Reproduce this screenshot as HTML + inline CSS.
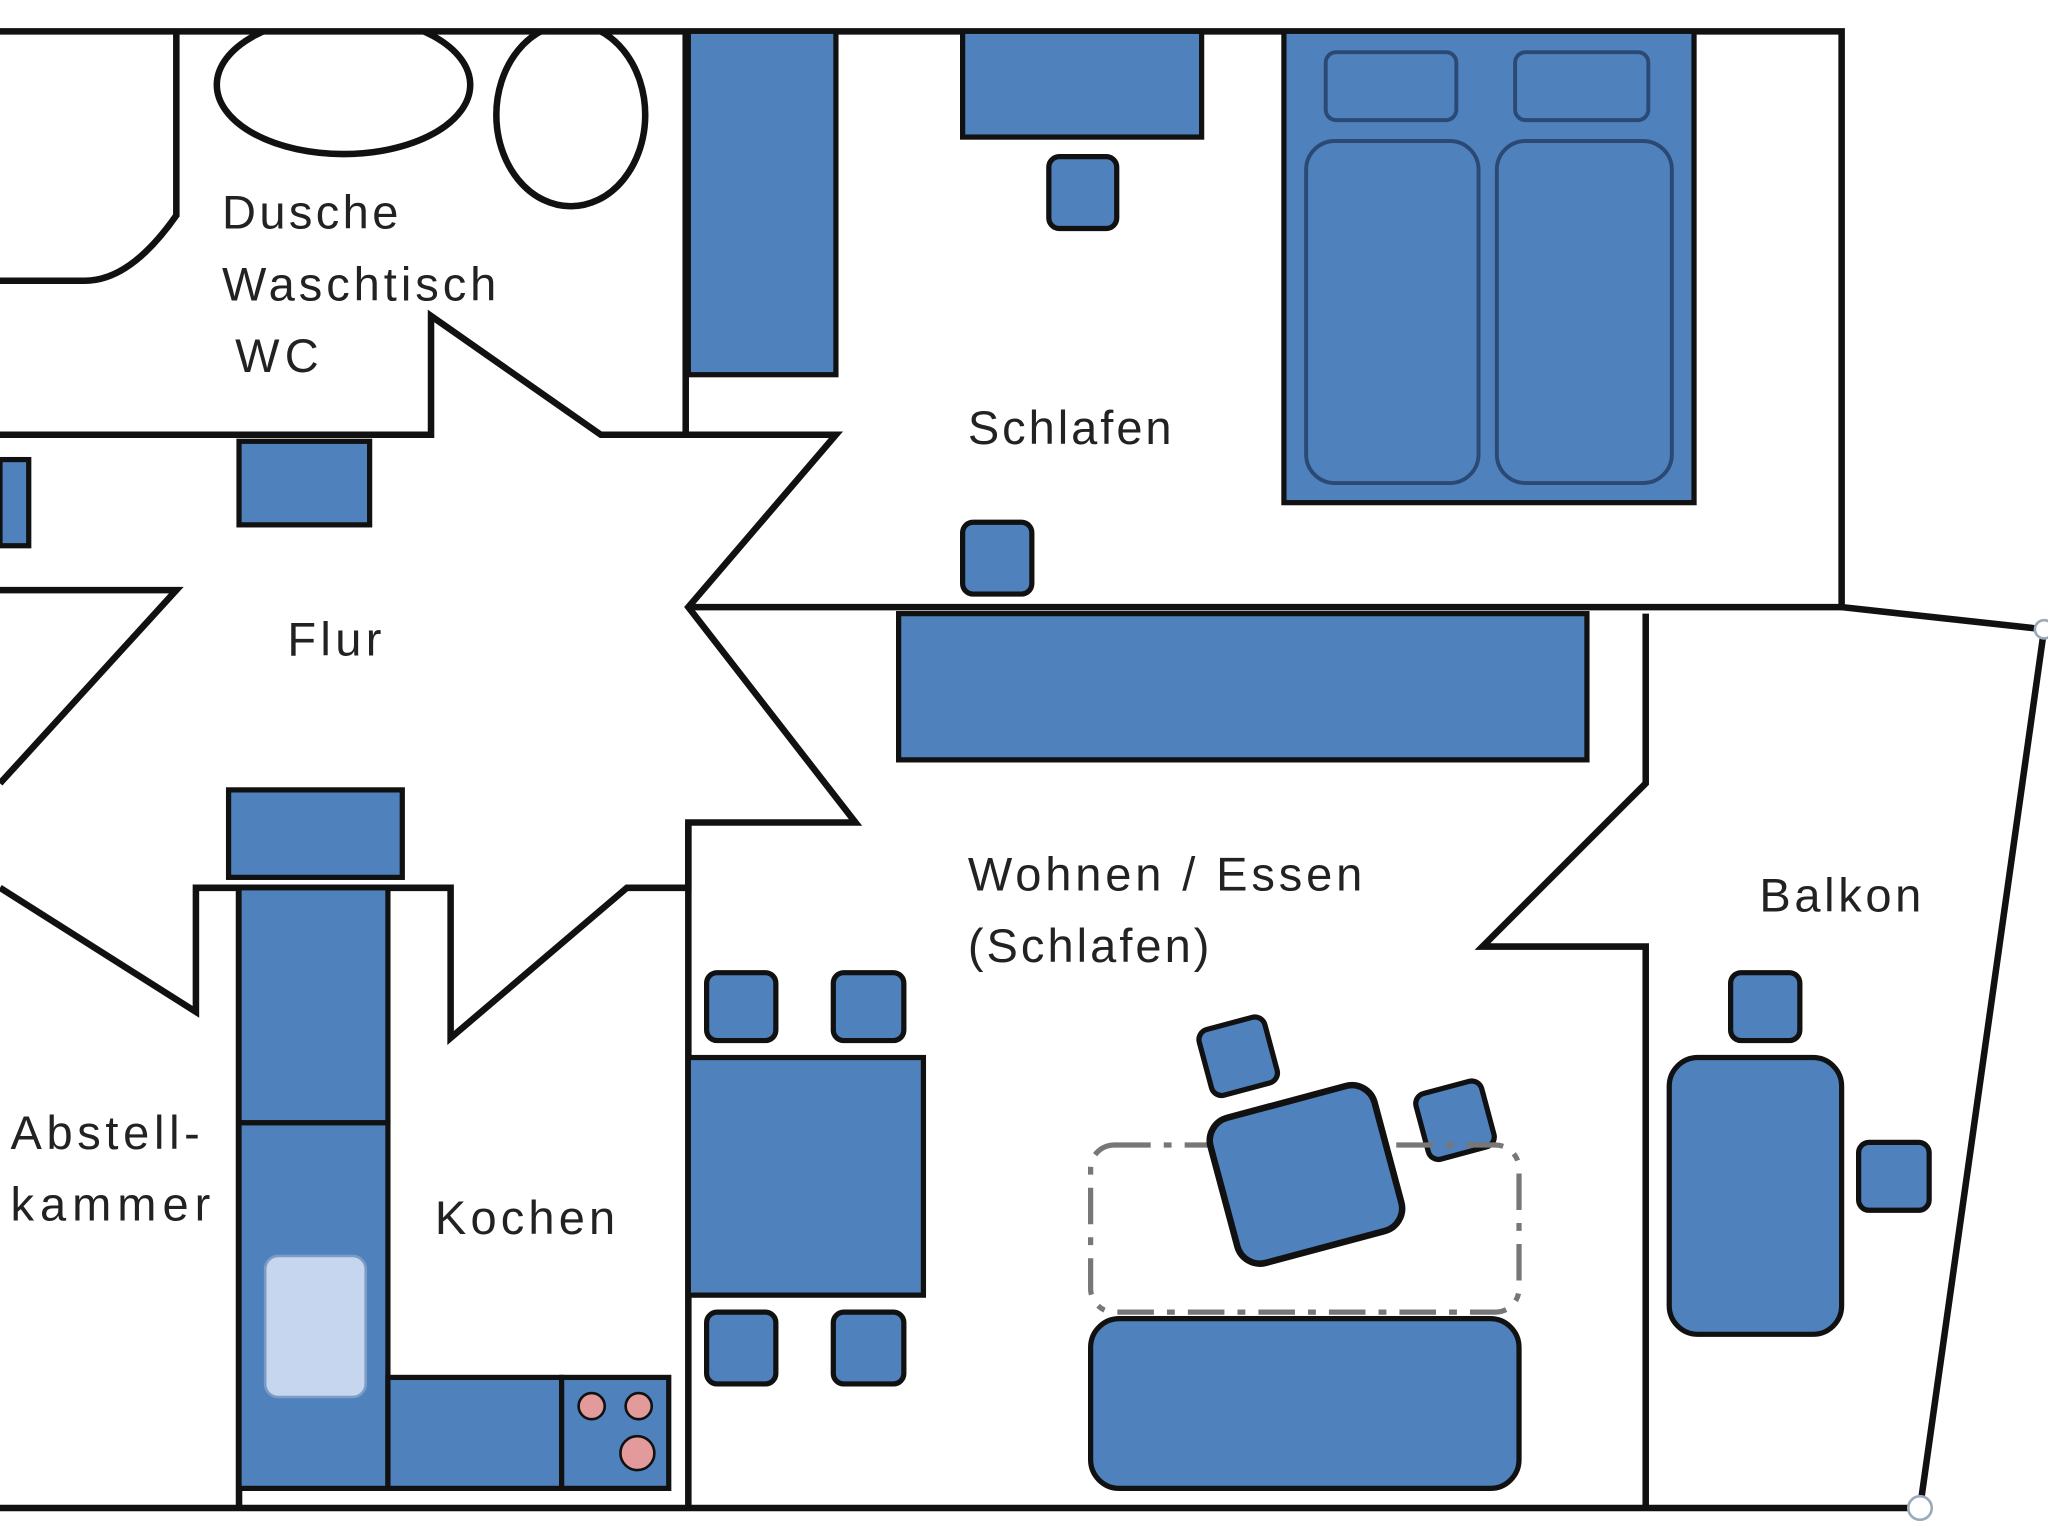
<!DOCTYPE html>
<html><head><meta charset="utf-8"><style>
html,body{margin:0;padding:0;background:#fff;}
svg{display:block}
text{font-family:"Liberation Sans",sans-serif;font-size:36px;fill:#222;}
</style></head><body>
<svg width="2048" height="1538" viewBox="0 0 1568 1178" preserveAspectRatio="none" xmlns="http://www.w3.org/2000/svg">
<defs><clipPath id="c"><rect x="0" y="24" width="1568" height="1200"/></clipPath></defs>
<rect width="1568" height="1178" fill="#fff"/>
<g fill="none" stroke="#111" stroke-width="5" stroke-linejoin="miter">
<path d="M0 24 H1410 V465 L1565 482 L1470 1155 H0"/>
<path d="M0 215 H65 Q100 215 135 165 V24"/>
<g clip-path="url(#c)">
<ellipse cx="263" cy="65" rx="97" ry="53"/>
<ellipse cx="437" cy="88" rx="57" ry="70"/>
</g>
<path d="M525 24 V333"/>
<path d="M0 333 H330 V242 L460 333 H640 L527 465 L655 630 H527 V680 H480 L345 795 V680 H150 V775 L0 680"/>
<path d="M0 600 L135 452 H0"/>
<path d="M527 465 H1410"/>
<path d="M527 630 V1155"/>
<path d="M183 680 V1155"/>
<path d="M1260 470 V600 L1135 725 H1260 V1155"/>
</g>
<g fill="#4f81bd" stroke="#111" stroke-width="4">
<rect x="527" y="24" width="113" height="263"/>
<rect x="737" y="24" width="183" height="81"/>
<rect x="803" y="120" width="52" height="55" rx="8"/>
<rect x="983" y="24" width="314" height="361"/>
<rect x="737" y="400" width="53" height="55" rx="8"/>
<rect x="0" y="352" width="22" height="66"/>
<rect x="183" y="338" width="100" height="64"/>
<rect x="688" y="470" width="527" height="112"/>
<rect x="175" y="605" width="133" height="67"/>
<rect x="183" y="680" width="114" height="180"/>
<rect x="183" y="860" width="114" height="280"/>
<rect x="297" y="1055" width="133" height="85"/>
<rect x="430" y="1055" width="82" height="85"/>
<rect x="527" y="810" width="180" height="182"/>
<rect x="541" y="745" width="53" height="52" rx="8"/>
<rect x="638" y="745" width="54" height="52" rx="8"/>
<rect x="541" y="1005" width="53" height="55" rx="8"/>
<rect x="638" y="1005" width="54" height="55" rx="8"/>
<rect x="835" y="1010" width="328" height="130" rx="22"/>
<rect x="1325" y="745" width="53" height="52" rx="8"/>
<rect x="1278" y="810" width="132" height="212" rx="22"/>
<rect x="1423" y="875" width="54" height="52" rx="8"/>
<rect x="922" y="783" width="52" height="52" rx="8" transform="rotate(-15 948 809)"/>
<rect x="1088" y="832" width="52" height="52" rx="8" transform="rotate(-15 1114 858)"/>
</g>
<g fill="#4f81bd" stroke="#2a4a75" stroke-width="3">
<rect x="1015" y="40" width="100" height="52" rx="8"/>
<rect x="1160" y="40" width="102" height="52" rx="8"/>
<rect x="1000" y="108" width="132" height="262" rx="22"/>
<rect x="1146" y="108" width="134" height="262" rx="22"/>
</g>
<rect x="203" y="962" width="77" height="108" rx="10" fill="#c5d6ee" stroke="#7c9bc6" stroke-width="2"/>
<g fill="#e39a9a" stroke="#111" stroke-width="2">
<circle cx="453" cy="1077" r="10"/><circle cx="489" cy="1077" r="10"/><circle cx="488" cy="1113" r="13"/>
</g>
<rect x="835" y="877" width="328" height="128" rx="18" fill="none" stroke="#777" stroke-width="4" stroke-dasharray="28 10 6 10"/>
<rect x="935" y="842" width="130" height="115" rx="18" fill="#4f81bd" stroke="#111" stroke-width="5" transform="rotate(-15 1000 900)"/>
<g fill="#fff" stroke="#9ab" stroke-width="2"><circle cx="1565" cy="482" r="7"/><circle cx="1470" cy="1155" r="9"/></g>
<text x="170" y="175" textLength="135">Dusche</text>
<text x="170" y="230" textLength="210">Waschtisch</text>
<text x="180" y="285" textLength="64">WC</text>
<text x="741" y="340" textLength="156">Schlafen</text>
<text x="220" y="502" textLength="72">Flur</text>
<text x="741" y="682" textLength="302">Wohnen / Essen</text>
<text x="741" y="737" textLength="185">(Schlafen)</text>
<text x="1347" y="698" textLength="124">Balkon</text>
<text x="8" y="880" textLength="145">Abstell-</text>
<text x="8" y="935" textLength="153">kammer</text>
<text x="333" y="945" textLength="138">Kochen</text>
</svg>
</body></html>
